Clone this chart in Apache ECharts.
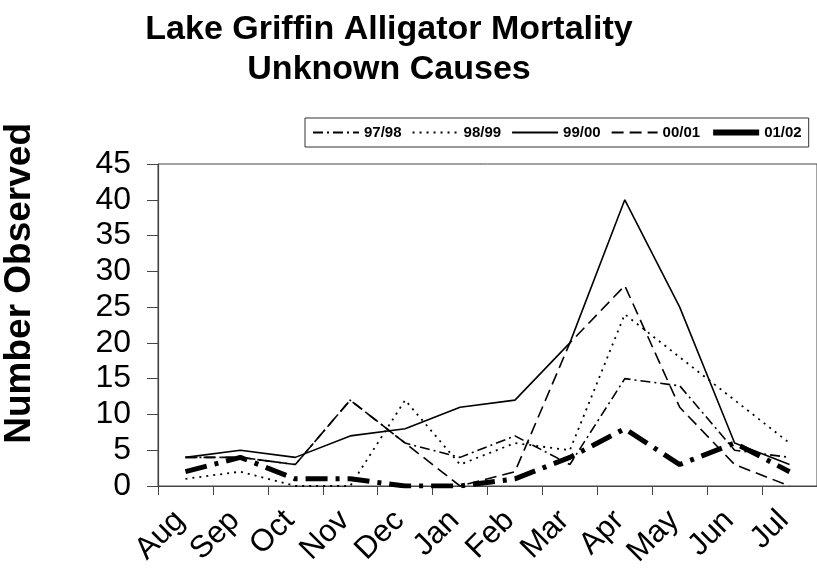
<!DOCTYPE html>
<html style="height: 100%">
<head>
    <meta charset="utf-8">
    <script src="https://cdn.jsdelivr.net/npm/echarts@6/dist/echarts.min.js"></script>
    <title>Lake Griffin Alligator Mortality</title>
</head>
<body style="height: 100%; margin: 0; background: #fff">
<div id="container" style="width: 817px; height: 577px"></div>
<script type="text/javascript">

    // months of the season, Aug -> Jul
    let months = ['Aug', 'Sep', 'Oct', 'Nov', 'Dec', 'Jan', 'Feb', 'Mar', 'Apr', 'May', 'Jun', 'Jul'];
    let yTicks = [0, 5, 10, 15, 20, 25, 30, 35, 40, 45];

    // number observed per season
    let s9798 = [4, 4, 3, 12, 6, 4, 7, 3, 15, 14, 5, 4];
    let s9899 = [1, 2, 0, 0, 12, 3, 6, 5, 24, 18, 12, 6];
    let s9900 = [4, 5, 4, 7, 8, 11, 12, 20, 40, 25, 6, 3];
    let s0001 = [4, 4, 3, 12, 6, 0, 2, 20, 28, 11, 3, 0];
    let s0102 = [2, 4, 1, 1, 0, 0, 1, 4, 8, 3, 6, 2];

    let seasons = ['97/98', '98/99', '99/00', '00/01', '01/02'];
    let seasonData = [s9798, s9899, s9900, s0001, s0102];

    // line looks per season
    let styles = [
        {width: 1.6, type: [10, 4, 2, 4]},
        {width: 1.8, type: [2, 5]},
        {width: 1.6, type: 'solid'},
        {width: 1.6, type: [12, 6]},
        {width: 5, type: [22, 8, 4, 8]}
    ];

    let font = 'Liberation Sans, Arial, Helvetica, sans-serif';

    let series = seasons.map(function (name, i) {
        return {
            name: name,
            type: 'line',
            data: seasonData[i],
            symbol: 'none',
            smooth: false,
            animation: false,
            color: '#000',
            lineStyle: {color: '#000', width: styles[i].width, type: styles[i].type}
        };
    });

    // legend entries: the thick one shows as a plain bar
    let legendData = seasons.map(function (name, i) {
        let item = {name: name};
        if (i === 4) item.lineStyle = {type: 'solid', width: 6};
        return item;
    });

    let chart = echarts.init(document.getElementById('container'));
    chart.setOption({
        backgroundColor: '#fff',
        animation: false,
        title: {
            text: 'Lake Griffin Alligator Mortality\nUnknown Causes',
            left: 384,
            top: 5,
            textAlign: 'center',
            textStyle: {fontFamily: font, fontSize: 34, fontWeight: 'bold', color: '#000', lineHeight: 40}
        },
        legend: {
            data: legendData,
            left: 305,
            top: 118,
            width: 505,
            orient: 'horizontal',
            itemWidth: 46,
            itemHeight: 12,
            itemGap: 10,
            padding: [7, 7],
            borderColor: '#333',
            borderWidth: 1,
            itemStyle: {opacity: 0},
            textStyle: {fontFamily: font, fontSize: 15, fontWeight: 'bold', color: '#000'}
        },
        grid: {left: 158, top: 164, bottom: 91, right: -6, show: true, borderColor: '#444', borderWidth: 1},
        xAxis: {
            type: 'category',
            data: months,
            boundaryGap: true,
            axisLine: {lineStyle: {color: '#444', width: 1.2}},
            axisTick: {show: true, length: 9, lineStyle: {color: '#444'}},
            axisLabel: {rotate: 45, margin: 24, padding: [0, 8, 0, 0], fontFamily: font, fontSize: 31, color: '#000', interval: 0}
        },
        yAxis: {
            type: 'value',
            min: yTicks[0],
            max: yTicks[yTicks.length - 1],
            interval: 5,
            splitLine: {show: false},
            axisLine: {show: true, lineStyle: {color: '#444', width: 1.2}},
            axisTick: {show: true, length: 11, lineStyle: {color: '#444'}},
            axisLabel: {margin: 27, fontFamily: font, fontSize: 32, color: '#000'}
        },
        graphic: [{
            type: 'text',
            left: 1,
            top: 123,
            rotation: Math.PI / 2,
            style: {text: 'Number Observed', fontFamily: font, fontSize: 37, fontWeight: 'bold', fill: '#000'}
        }],
        series: series
    });

</script>
</body>
</html>
